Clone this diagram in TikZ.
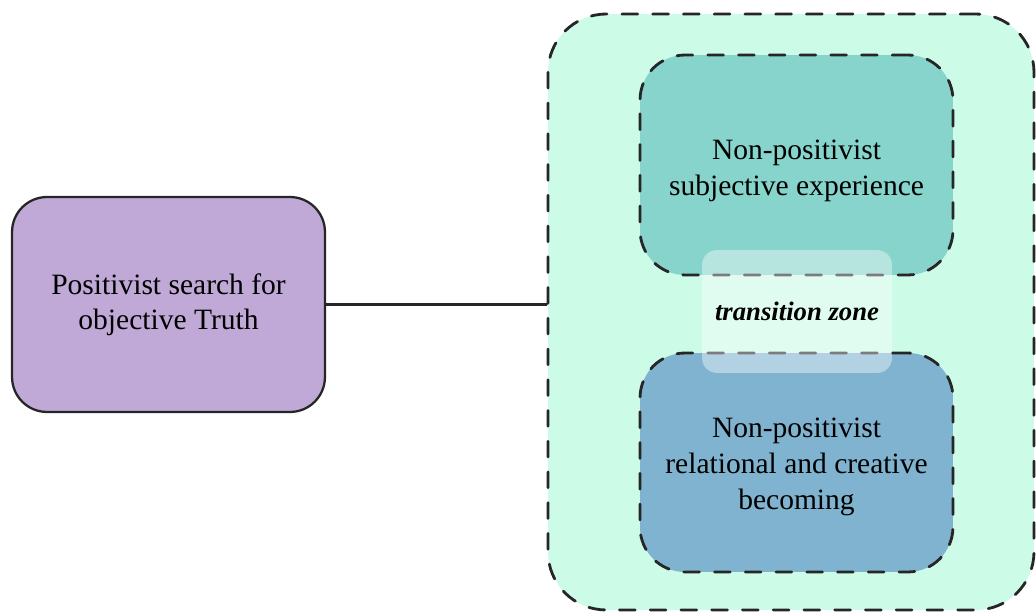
\documentclass[tikz,border=0pt]{standalone}
\usepackage{fontspec}
\setmainfont{Liberation Serif}
\definecolor{posfill}{RGB}{192,169,214}
\definecolor{mintfill}{RGB}{204,251,232}
\definecolor{subjfill}{RGB}{134,212,203}
\definecolor{relfill}{RGB}{128,179,207}
\tikzset{
  posbox/.style={draw=black!85, line width=1.3pt, fill=posfill, rounded corners=0.7cm,
    minimum width=6.26cm, minimum height=4.3cm, align=center, font=\fontsize{16.8}{19.9}\selectfont},
  dashzone/.style={draw=black!85, line width=1.6pt, dash pattern=on 9pt off 8.5pt},
  zonetext/.style={align=center, font=\fontsize{16.8}{20.3}\selectfont},
}
\begin{document}
\begin{tikzpicture}[x=0.02cm, y=-0.02cm, line join=round, line cap=round]
  \useasboundingbox (0,0) rectangle (1036,614);
  % left box
  \node[posbox] (pos) at (168.5,304.5) {Positivist search for\\objective Truth};
  % outer zone and the two inner ones
  \node[dashzone, fill=mintfill, rounded corners=1.16cm, minimum width=9.72cm, minimum height=11.92cm] (nonpos) at (791,312) {};
  \node[dashzone, fill=subjfill, rounded corners=0.9cm, minimum width=6.26cm, minimum height=4.4cm] (subj) at (796.5,165) {};
  \node[dashzone, fill=relfill, rounded corners=0.9cm, minimum width=6.26cm, minimum height=4.38cm] (rel) at (796.5,462.5) {};
  \node[zonetext] (subjtext) at (796.5,171) {Non-positivist\\subjective experience};
  \node[zonetext] (reltext) at (796.5,467) {Non-positivist\\relational and creative\\becoming};
  % transition zone
  \node[fill=white, fill opacity=0.4, text opacity=1, rounded corners=0.3cm, minimum width=3.8cm, minimum height=2.46cm,
    font=\fontsize{15.2}{18}\selectfont\bfseries\itshape] (trans) at (797,311.5) {transition zone};
  \draw[line width=1.3pt, black!85] (pos.east) -- (pos.east -| nonpos.west);
\end{tikzpicture}
\end{document}
